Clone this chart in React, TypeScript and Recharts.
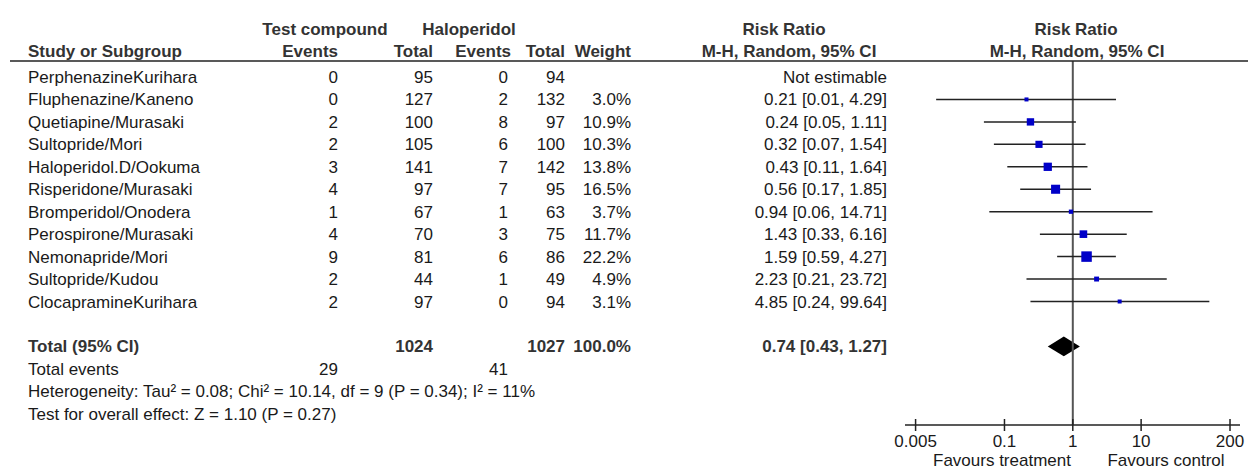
import React from "react";
import {
  ComposedChart,
  ReferenceArea,
  ReferenceLine,
  Scatter,
  XAxis,
  YAxis,
} from "recharts";

document.body.style.margin = "0";

const studies = [
  "PerphenazineKurihara",
  "Fluphenazine/Kaneno",
  "Quetiapine/Murasaki",
  "Sultopride/Mori",
  "Haloperidol.D/Ookuma",
  "Risperidone/Murasaki",
  "Bromperidol/Onodera",
  "Perospirone/Murasaki",
  "Nemonapride/Mori",
  "Sultopride/Kudou",
  "ClocapramineKurihara",
];
const testEvents = [0, 0, 2, 2, 3, 4, 1, 4, 9, 2, 2];
const testTotal = [95, 127, 100, 105, 141, 97, 67, 70, 81, 44, 97];
const haloEvents = [0, 2, 8, 6, 7, 7, 1, 3, 6, 1, 0];
const haloTotal = [94, 132, 97, 100, 142, 95, 63, 75, 86, 49, 94];
const weights = [null, 3.0, 10.9, 10.3, 13.8, 16.5, 3.7, 11.7, 22.2, 4.9, 3.1];
const riskRatio = [null, 0.21, 0.24, 0.32, 0.43, 0.56, 0.94, 1.43, 1.59, 2.23, 4.85];
const lower = [null, 0.01, 0.05, 0.07, 0.11, 0.17, 0.06, 0.33, 0.59, 0.21, 0.24];
const upper = [null, 4.29, 1.11, 1.54, 1.64, 1.85, 14.71, 6.16, 4.27, 23.72, 99.64];

const pooledRR = 0.74;
const pooledLo = 0.43;
const pooledHi = 1.27;
const totalTest = 1024;
const totalHalo = 1027;
const eventsTest = 29;
const eventsHalo = 41;

const xTicks = [0.005, 0.1, 1, 10, 200];

const W = 1248;
const H = 470;
const FONT = "'Liberation Sans', Arial, sans-serif";
const FS = 17;
const ROW0 = 77;
const ROWH = 22.45;
const TOTAL_ROW = 12;
const PLOT_TOP = 61;
const AXIS_Y = 425;

const rowY = (i: number) => ROW0 + ROWH * i;

// right edges of the table columns
const C_TE = 338;
const C_TT = 433;
const C_HE = 508;
const C_HT = 565;
const C_W = 631;
const C_RR = 887;
const LEFT = 28;

const fmtW = (w: number | null) => (w == null ? "" : w.toFixed(1) + "%");
const fmtCI = (i: number) =>
  riskRatio[i] == null
    ? "Not estimable"
    : `${riskRatio[i]!.toFixed(2)} [${lower[i]!.toFixed(2)}, ${upper[i]!.toFixed(2)}]`;

const boxes = riskRatio
  .map((v, i) => (v == null ? null : { x: v, y: i, w: weights[i] as number }))
  .filter(Boolean) as { x: number; y: number; w: number }[];

const Box = (props: any) => {
  const { cx, cy, payload } = props;
  const s = Math.max(4, 10.5 * Math.sqrt(payload.w / 22.2));
  return <rect x={cx - s / 2} y={cy - s / 2} width={s} height={s} fill="#0000c8" />;
};

const Diamond = (props: any) => {
  const { x, y, width, height } = props;
  const pts = [
    [x, y + height / 2],
    [x + width / 2, y],
    [x + width, y + height / 2],
    [x + width / 2, y + height],
  ]
    .map((p) => p.join(","))
    .join(" ");
  return <polygon points={pts} fill="#000" />;
};

const AxisTick = ({ x, y, payload }: any) => (
  <g>
    <line x1={x} x2={x} y1={y - 6} y2={y + 6} stroke="#222" strokeWidth={1.5} />
    <text x={x} y={y + 22} textAnchor="middle" fontSize={FS} fill="#1a1a1a" fontFamily={FONT}>
      {String(payload.value)}
    </text>
  </g>
);

function T({
  x,
  y,
  anchor = "end",
  bold = false,
  color = "#1a1a1a",
  children,
}: {
  x: number;
  y: number;
  anchor?: "start" | "middle" | "end";
  bold?: boolean;
  color?: string;
  children: React.ReactNode;
}) {
  return (
    <text
      x={x}
      y={y + 6}
      textAnchor={anchor}
      fontSize={FS}
      fontWeight={bold ? "bold" : "normal"}
      fill={color}
      fontFamily={FONT}
    >
      {children}
    </text>
  );
}

function Table() {
  const hc = "#333";
  const h1 = 29;
  const h2 = 51;
  const ty = rowY(TOTAL_ROW);
  return (
    <svg width={W} height={H} style={{ position: "absolute", left: 0, top: 0, pointerEvents: "none" }}>
      <T x={325} y={h1} anchor="middle" bold color={hc}>Test compound</T>
      <T x={469} y={h1} anchor="middle" bold color={hc}>Haloperidol</T>
      <T x={784} y={h1} anchor="middle" bold color={hc}>Risk Ratio</T>
      <T x={1076} y={h1} anchor="middle" bold color={hc}>Risk Ratio</T>

      <T x={LEFT} y={h2} anchor="start" bold color={hc}>Study or Subgroup</T>
      <T x={C_TE} y={h2} bold color={hc}>Events</T>
      <T x={C_TT} y={h2} bold color={hc}>Total</T>
      <T x={C_HE + 3} y={h2} bold color={hc}>Events</T>
      <T x={C_HT} y={h2} bold color={hc}>Total</T>
      <T x={C_W} y={h2} bold color={hc}>Weight</T>
      <T x={789} y={h2} anchor="middle" bold color={hc}>M-H, Random, 95% CI</T>
      <T x={1077} y={h2} anchor="middle" bold color={hc}>M-H, Random, 95% CI</T>
      <line x1={10} x2={W} y1={PLOT_TOP} y2={PLOT_TOP} stroke="#222" strokeWidth={1.5} />

      {studies.map((s, i) => (
        <g key={s}>
          <T x={LEFT} y={rowY(i)} anchor="start">{s}</T>
          <T x={C_TE} y={rowY(i)}>{testEvents[i]}</T>
          <T x={C_TT} y={rowY(i)}>{testTotal[i]}</T>
          <T x={C_HE} y={rowY(i)}>{haloEvents[i]}</T>
          <T x={C_HT} y={rowY(i)}>{haloTotal[i]}</T>
          <T x={C_W} y={rowY(i)}>{fmtW(weights[i])}</T>
          <T x={C_RR} y={rowY(i)}>{fmtCI(i)}</T>
        </g>
      ))}

      <T x={LEFT} y={ty} anchor="start" bold color={hc}>Total (95% CI)</T>
      <T x={C_TT} y={ty} bold color={hc}>{totalTest}</T>
      <T x={C_HT} y={ty} bold color={hc}>{totalHalo}</T>
      <T x={C_W} y={ty} bold color={hc}>100.0%</T>
      <T x={C_RR} y={ty} bold color={hc}>
        {`${pooledRR.toFixed(2)} [${pooledLo.toFixed(2)}, ${pooledHi.toFixed(2)}]`}
      </T>

      <T x={LEFT} y={rowY(13)} anchor="start">Total events</T>
      <T x={C_TE} y={rowY(13)}>{eventsTest}</T>
      <T x={C_HE} y={rowY(13)}>{eventsHalo}</T>
      <T x={LEFT} y={rowY(14)} anchor="start">
        Heterogeneity: Tau² = 0.08; Chi² = 10.14, df = 9 (P = 0.34); I² = 11%
      </T>
      <T x={LEFT} y={rowY(15)} anchor="start">Test for overall effect: Z = 1.10 (P = 0.27)</T>

      <T x={1002} y={AXIS_Y + 35} anchor="middle">Favours treatment</T>
      <T x={1166} y={AXIS_Y + 35} anchor="middle">Favours control</T>
    </svg>
  );
}

export default function App() {
  const yDomain = [(PLOT_TOP - ROW0) / ROWH, (AXIS_Y - ROW0) / ROWH];
  return (
    <div style={{ position: "relative", width: W, height: H, background: "#fff" }}>
      <ComposedChart
        width={W}
        height={H}
        margin={{ top: PLOT_TOP, right: 8, left: 905, bottom: 0 }}
      >
        <XAxis
          type="number"
          dataKey="x"
          scale="log"
          domain={[0.0035, 280]}
          allowDataOverflow
          ticks={xTicks}
          interval={0}
          tick={<AxisTick />}
          tickLine={false}
          tickSize={0}
          tickMargin={0}
          height={H - AXIS_Y}
          axisLine={{ stroke: "#222", strokeWidth: 1.5 }}
        />
        <YAxis type="number" dataKey="y" domain={yDomain} reversed hide allowDataOverflow />
        <ReferenceLine x={1} stroke="#555" strokeWidth={2} />
        {riskRatio.map((v, i) =>
          v == null ? null : (
            <ReferenceLine
              key={i}
              segment={[
                { x: lower[i] as number, y: i },
                { x: upper[i] as number, y: i },
              ]}
              stroke="#222"
              strokeWidth={1.5}
            />
          )
        )}
        <Scatter data={boxes} shape={<Box />} isAnimationActive={false} />
        <ReferenceArea
          x1={pooledLo}
          x2={pooledHi}
          y1={TOTAL_ROW - 0.44}
          y2={TOTAL_ROW + 0.44}
          shape={<Diamond />}
        />
      </ComposedChart>
      <Table />
    </div>
  );
}
